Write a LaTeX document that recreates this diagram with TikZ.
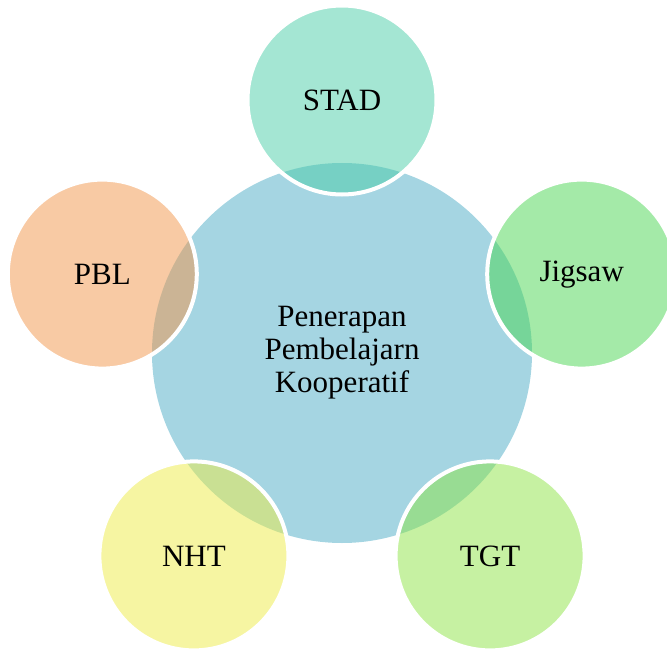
\documentclass[tikz,border=0pt]{standalone}
\usepackage{fontspec}
\setmainfont{Liberation Serif}
\definecolor{hubblue}{RGB}{165,213,226}
\definecolor{cstad}{RGB}{73,205,167}
\definecolor{cjig}{RGB}{73,213,81}
\definecolor{ctgt}{RGB}{141,227,69}
\definecolor{cnht}{RGB}{237,235,69}
\definecolor{cpbl}{RGB}{241,149,73}
\tikzset{
  hub/.style={circle, inner sep=0pt, minimum size=380pt, fill=hubblue, align=center,
    font=\fontsize{31}{33}\selectfont},
  sat/.style={circle, inner sep=0pt, minimum size=189pt, fill=#1, fill opacity=0.5,
    draw=white, draw opacity=1, line width=4pt, text opacity=1,
    font=\fontsize{31}{33}\selectfont}
}
\begin{document}
\begin{tikzpicture}[x=1pt,y=-1pt]
\useasboundingbox (0,0) rectangle (667,650);
\node[hub] (hub) at (342,353) {Penerapan\\Pembelajarn\\Kooperatif};
\node[sat=cstad] (stad) at (342,100) {STAD};
\node[sat=cjig] (jig) at (581.7,274.1) {Jigsaw};
\node[sat=ctgt] (tgt) at (490.1,555.9) {TGT};
\node[sat=cnht] (nht) at (193.9,555.9) {NHT};
\node[sat=cpbl] (pbl) at (102.3,274.1) {PBL};
\end{tikzpicture}
\end{document}
